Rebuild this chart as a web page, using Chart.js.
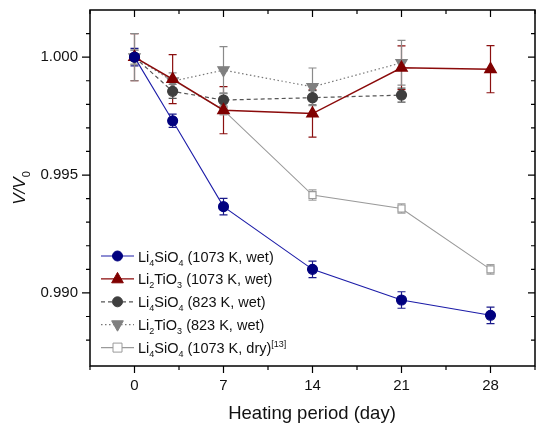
<!doctype html>
<html lang="en">
<head>
<meta charset="utf-8">
<title>Volume change vs heating period</title>
<script src="https://cdn.jsdelivr.net/npm/chart.js@4"></script>
<style>
  html, body { margin: 0; padding: 0; background: #fff; }
</style>
</head>
<body>
<canvas id="chart" width="536" height="428"></canvas>
<script>
// data
const days = [0, 3, 7, 14, 21, 28]

const siWet1073 = [1.0000, 0.99730, 0.99366, 0.99100, 0.98970, 0.98905]
const siWet1073Err = [0.00037, 0.00028, 0.00035, 0.00035, 0.00035, 0.00035]

const tiWet1073 = [1.0000, 0.99907, 0.99775, 0.99761, 0.99955, 0.99949]
const tiWet1073Err = [0.0010, 0.00104, 0.0010, 0.0010, 0.00093, 0.0010]

const siWet823 = [1.0000, 0.99855, 0.99818, 0.99828, 0.99839, null]
const siWet823Err = [0.0003, 0.0003, 0.0003, 0.0003, 0.0003, null]

const tiWet823 = [1.0000, 0.99898, 0.99945, 0.99874, 0.99976, null]
const tiWet823Err = [0.0010, 0.00035, 0.0010, 0.0008, 0.00095, null]

const siDry1073 = [1.0000, null, 0.99775, 0.99415, 0.99358, 0.99100]
const siDry1073Err = [0.0003, null, 0.0002, 0.00022, 0.0002, 0.0002]

const xTicks = [0, 7, 14, 21, 28]
const xMinor = [-3.5, 3.5, 10.5, 17.5, 24.5, 31.5]
const yTicks = [0.990, 0.995, 1.000]
const yMinor = [0.988, 0.989, 0.991, 0.992, 0.993, 0.994, 0.996, 0.997, 0.998, 0.999, 1.001]

const xTitle = 'Heating period (day)'
// legend labels as [text, kind] pieces so the subscripts can be drawn
const legendLabels = [
  [['Li', ''], ['4', 'sub'], ['SiO', ''], ['4', 'sub'], [' (1073 K, wet)', '']],
  [['Li', ''], ['2', 'sub'], ['TiO', ''], ['3', 'sub'], [' (1073 K, wet)', '']],
  [['Li', ''], ['4', 'sub'], ['SiO', ''], ['4', 'sub'], [' (823 K, wet)', '']],
  [['Li', ''], ['2', 'sub'], ['TiO', ''], ['3', 'sub'], [' (823 K, wet)', '']],
  [['Li', ''], ['4', 'sub'], ['SiO', ''], ['4', 'sub'], [' (1073 K, dry)', ''], ['[13]', 'sup']],
]
const yTitle = [['V/V', 'i'], ['0', 'sub']]

const FONT = '"Liberation Sans", Arial, Helvetica, sans-serif'

function pts(vals) {
  return days.map((d, i) => ({ x: d, y: vals[i] }))
}

function partFont(kind, size) {
  if (kind === 'sub' || kind === 'sup') return `${Math.round(size * 0.65)}px ${FONT}`
  if (kind === 'i') return `italic ${size}px ${FONT}`
  return `${size}px ${FONT}`
}

function richWidth(ctx, parts, size) {
  let w = 0
  for (const [t, k] of parts) { ctx.font = partFont(k, size); w += ctx.measureText(t).width }
  return w
}

function drawRich(ctx, parts, x, y, size) {
  ctx.textBaseline = 'alphabetic'
  ctx.textAlign = 'left'
  for (const [t, k] of parts) {
    ctx.font = partFont(k, size)
    let dy = 0
    if (k === 'sub') dy = size * 0.28
    if (k === 'sup') dy = -size * 0.42
    ctx.fillText(t, x, y + dy)
    x += ctx.measureText(t).width
  }
}

function marker(ctx, style, x, y, r, fill, stroke) {
  ctx.beginPath()
  if (style === 'circle') {
    ctx.arc(x, y, r, 0, Math.PI * 2)
  } else if (style === 'rect') {
    ctx.rect(x - r, y - r, 2 * r, 2 * r)
  } else {
    const s = style === 'down' ? -1 : 1
    ctx.moveTo(x, y - s * r)
    ctx.lineTo(x + r * 0.9, y + s * r * 0.6)
    ctx.lineTo(x - r * 0.9, y + s * r * 0.6)
    ctx.closePath()
  }
  ctx.fillStyle = fill
  ctx.fill()
  ctx.strokeStyle = stroke
  ctx.lineWidth = 1
  ctx.stroke()
}

const errorBars = {
  id: 'errorBars',
  beforeDatasetsDraw(chart) {
    const { ctx, scales: { x, y } } = chart
    ctx.save()
    chart.data.datasets.forEach(ds => {
      if (!ds.errors) return
      ctx.strokeStyle = ds.errColor
      ctx.lineWidth = 1.2
      ctx.setLineDash([])
      ctx.beginPath()
      ds.data.forEach((p, i) => {
        const e = ds.errors[i]
        if (p.y == null || e == null) return
        const px = x.getPixelForValue(p.x)
        const top = y.getPixelForValue(p.y + e)
        const bot = y.getPixelForValue(p.y - e)
        ctx.moveTo(px, top); ctx.lineTo(px, bot)
        ctx.moveTo(px - 4, top); ctx.lineTo(px + 4, top)
        ctx.moveTo(px - 4, bot); ctx.lineTo(px + 4, bot)
      })
      ctx.stroke()
    })
    ctx.restore()
  }
}

const frame = {
  id: 'frame',
  afterDraw(chart) {
    const { ctx, chartArea: a, scales: { x, y } } = chart
    ctx.save()
    ctx.strokeStyle = '#000'
    ctx.lineWidth = 1.5
    ctx.strokeRect(a.left, a.top, a.right - a.left, a.bottom - a.top)
    ctx.lineWidth = 1.2
    ctx.beginPath()
    const seg = (x1, y1, x2, y2) => { ctx.moveTo(x1, y1); ctx.lineTo(x2, y2) }
    for (const v of xTicks) {
      const p = x.getPixelForValue(v)
      seg(p, a.bottom, p, a.bottom + 7)
      seg(p, a.top, p, a.top + 7)
    }
    for (const v of xMinor) {
      const p = x.getPixelForValue(v)
      seg(p, a.bottom, p, a.bottom + 4)
      seg(p, a.top, p, a.top + 4)
    }
    for (const v of yTicks) {
      const p = y.getPixelForValue(v)
      seg(a.left - 8, p, a.left, p)
      seg(a.right - 7, p, a.right, p)
    }
    for (const v of yMinor) {
      const p = y.getPixelForValue(v)
      seg(a.left - 4, p, a.left, p)
      seg(a.right - 4, p, a.right, p)
    }
    ctx.stroke()

    // axis titles
    ctx.fillStyle = '#111'
    ctx.font = `18.5px ${FONT}`
    ctx.textAlign = 'center'
    ctx.textBaseline = 'alphabetic'
    ctx.fillText(xTitle, 312, 419)

    ctx.translate(25, 188)
    ctx.rotate(-Math.PI / 2)
    const w = richWidth(ctx, yTitle, 17)
    drawRich(ctx, yTitle, -w / 2, 0, 17)
    ctx.restore()
  }
}

const legendBox = {
  id: 'legendBox',
  afterDraw(chart) {
    const { ctx } = chart
    ctx.save()
    chart.data.datasets.forEach((ds, i) => {
      const yy = 256 + i * 22.9
      ctx.strokeStyle = ds.borderColor
      ctx.lineWidth = ds.borderWidth
      ctx.setLineDash(ds.borderDash || [])
      ctx.beginPath()
      ctx.moveTo(101, yy); ctx.lineTo(134, yy)
      ctx.stroke()
      ctx.setLineDash([])
      marker(ctx, ds.legendMarker, 117.5, yy, ds.legendR, ds.pointBackgroundColor, ds.pointBorderColor)
      ctx.fillStyle = '#111'
      drawRich(ctx, legendLabels[i], 138, yy + 5.5, 14.5)
    })
    ctx.restore()
  }
}

new Chart(document.getElementById('chart'), {
  type: 'line',
  data: {
    datasets: [
      {
        data: pts(siWet1073), errors: siWet1073Err, errColor: '#1a1a8a',
        borderColor: '#1c1ca8', borderWidth: 1.1,
        pointStyle: 'circle', pointRadius: 5, legendMarker: 'circle', legendR: 5,
        pointBackgroundColor: '#00007f', pointBorderColor: '#00007f',
      },
      {
        data: pts(tiWet1073), errors: tiWet1073Err, errColor: '#8b1010',
        borderColor: '#8b0a0a', borderWidth: 1.4,
        pointStyle: 'triangle', pointRadius: 6.5, legendMarker: 'up', legendR: 6.5,
        pointBackgroundColor: '#800000', pointBorderColor: '#800000',
      },
      {
        data: pts(siWet823), errors: siWet823Err, errColor: '#555555',
        borderColor: '#555555', borderWidth: 1.2, borderDash: [4, 3],
        pointStyle: 'circle', pointRadius: 5, legendMarker: 'circle', legendR: 5,
        pointBackgroundColor: '#3f3f3f', pointBorderColor: '#3f3f3f',
      },
      {
        data: pts(tiWet823), errors: tiWet823Err, errColor: '#8a8a8a',
        borderColor: '#777777', borderWidth: 1.2, borderDash: [1.5, 2.5],
        pointStyle: 'triangle', pointRotation: 180, pointRadius: 6.5, legendMarker: 'down', legendR: 6.5,
        pointBackgroundColor: '#808080', pointBorderColor: '#808080',
      },
      {
        data: pts(siDry1073), errors: siDry1073Err, errColor: '#a0a0a0',
        borderColor: '#9a9a9a', borderWidth: 1.1,
        pointStyle: 'rect', pointRadius: 5, legendMarker: 'rect', legendR: 4.5,
        pointBackgroundColor: '#ffffff', pointBorderColor: '#9a9a9a', pointBorderWidth: 1.2,
      },
    ]
  },
  options: {
    responsive: false,
    animation: false,
    spanGaps: true,
    layout: { autoPadding: false, padding: { top: 10, right: 1, left: 0, bottom: 0 } },
    plugins: { legend: { display: false }, tooltip: { enabled: false } },
    scales: {
      x: {
        type: 'linear', min: -3.5, max: 31.5,
        afterBuildTicks: s => { s.ticks = xTicks.map(v => ({ value: v })) },
        afterFit: s => { s.height = 62; s.paddingLeft = 0; s.paddingRight = 0 },
        grid: { display: false, drawTicks: false },
        border: { display: false },
        ticks: { color: '#111', padding: 11, font: { size: 15, family: FONT }, maxRotation: 0 },
      },
      y: {
        type: 'linear', min: 0.9869, max: 1.002,
        afterBuildTicks: s => { s.ticks = yTicks.map(v => ({ value: v })) },
        afterFit: s => { s.width = 90; s.paddingTop = 0; s.paddingBottom = 0 },
        grid: { display: false, drawTicks: false },
        border: { display: false },
        ticks: { color: '#111', padding: 12, font: { size: 15, family: FONT }, callback: v => v.toFixed(3) },
      },
    }
  },
  plugins: [errorBars, frame, legendBox]
})
</script>
</body>
</html>
